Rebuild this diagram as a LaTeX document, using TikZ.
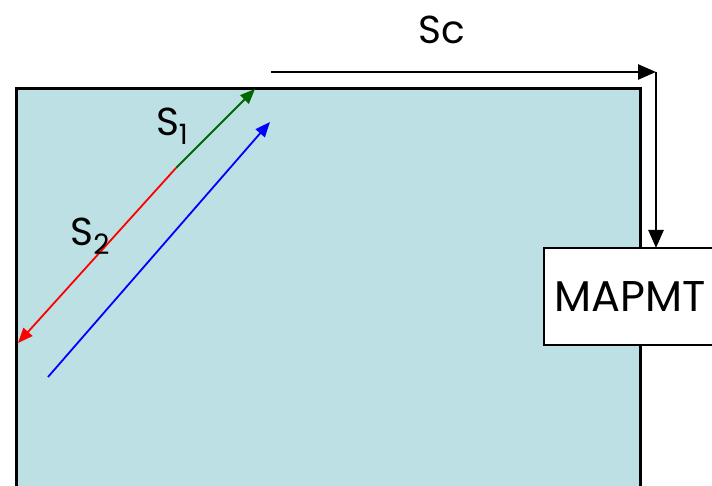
\documentclass[tikz,border=0pt]{standalone}
\usepackage{fontspec}
\setmainfont{Poppins}
\usetikzlibrary{arrows.meta, positioning}
\definecolor{tileblue}{RGB}{188, 224, 227}
\definecolor{raygreen}{RGB}{0, 102, 0}
\definecolor{rayred}{RGB}{255, 0, 0}
\definecolor{rayblue}{RGB}{0, 0, 255}
\newcommand{\lowidx}[1]{\raisebox{-0.4ex}{\fontsize{28}{28}\selectfont #1}}

\begin{document}
\begin{tikzpicture}[
    x=1pt, y=-1pt,
    every node/.style={font=\fontsize{39}{42}\selectfont},
    tile/.style={rectangle, draw=black, line width=3pt, fill=tileblue, outer sep=0pt, inner sep=0pt},
    pmtbox/.style={rectangle, draw=black, line width=2.5pt, fill=white, outer sep=0pt, minimum width=172pt, minimum height=97pt, font=\fontsize{43}{46}\selectfont},
    ray/.style={-{Triangle[length=15pt,width=12pt]}, line width=1.8pt},
    arrow/.style={-{Triangle[length=18pt,width=15pt]}, line width=2.5pt}
]
\useasboundingbox (0,0) rectangle (712,486);
\clip (0,0) rectangle (712,486);

% Tile
\node[tile, minimum width=624pt, minimum height=440pt, anchor=north west] (tile) at (16,89) {};

% MAPMT
\node[pmtbox] (pmt) at (630,296.5) {MAPMT};

% Sc path to the MAPMT
\coordinate (scstart) at (271,72);
\coordinate (corner) at (656,72);
\node (sc) at (442,30) {Sc};
\draw[arrow] (scstart) -- (corner);
\draw[arrow] (corner) -- (corner |- pmt.north);

% Rays
\coordinate (split) at (176,168);
\coordinate (topend) at (255,89);
\coordinate (leftend) at (18,343);
\coordinate (bluestart) at (48,377);
\coordinate (blueend) at (270,122);
\draw[ray, raygreen] (split) -- (topend);
\draw[ray, rayred] (split) -- (leftend);
\draw[ray, rayblue] (bluestart) -- (blueend);

% Labels
\node (s1) at (172,126) {S\lowidx{1}};
\node (s2) at (90,236) {S\lowidx{2}};

\end{tikzpicture}
\end{document}
